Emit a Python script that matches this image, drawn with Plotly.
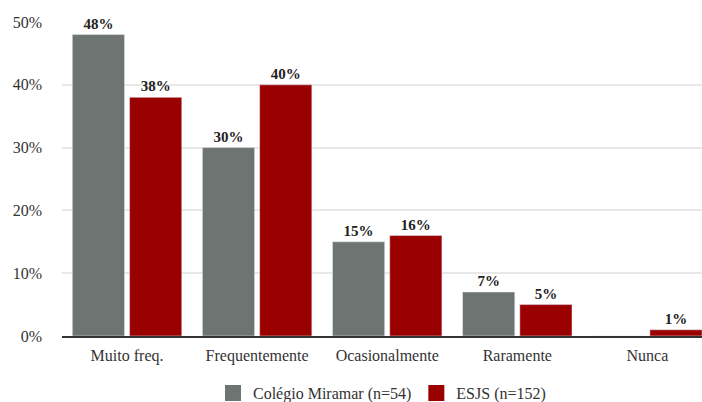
import plotly.graph_objects as go

categories = ["Muito freq.", "Frequentemente", "Ocasionalmente", "Raramente", "Nunca"]
miramar = [48, 30, 15, 7, 0]
esjs = [38, 40, 16, 5, 1]
miramar_labels = ["48%", "30%", "15%", "7%", ""]
esjs_labels = ["38%", "40%", "16%", "5%", "1%"]
y_ticks = [0, 10, 20, 30, 40, 50]
y_tick_text = ["0%", "10%", "20%", "30%", "40%", "50%"]
series_names = ["Colégio Miramar (n=54)", "ESJS (n=152)"]
series_colors = ["#6e7471", "#9b0000"]

font_family = "Liberation Serif"
label_font = dict(family=font_family, size=15, color="#222", weight="bold")

fig = go.Figure()
for vals, labels, name, color in [(miramar, miramar_labels, series_names[0], series_colors[0]),
                                  (esjs, esjs_labels, series_names[1], series_colors[1])]:
    fig.add_trace(go.Bar(
        x=categories, y=vals, name=name, marker_color=color,
        text=labels, textposition="outside", textfont=label_font,
        cliponaxis=False, showlegend=False,
    ))
# legend entries with larger square symbols
for name, color in zip(series_names, series_colors):
    fig.add_trace(go.Scatter(
        x=[None], y=[None], mode="markers", name=name,
        marker=dict(symbol="square", size=17, color=color),
        showlegend=True,
    ))

fig.update_layout(
    width=702, height=402,
    margin=dict(l=62, r=0, t=22, b=66, autoexpand=False),
    paper_bgcolor="white", plot_bgcolor="white",
    barmode="group", bargap=0.12, bargroupgap=0.088,
    font=dict(family=font_family, size=15, color="#333"),
    showlegend=True,
    legend=dict(orientation="h", x=0.5, xanchor="center",
                yref="container", y=0.022, yanchor="middle",
                font=dict(family=font_family, size=16, color="#333"),
                itemsizing="trace"),
    uniformtext=dict(mode="show", minsize=15),
)
fig.update_xaxes(
    range=[-0.5, 4.42], showgrid=False, tickfont=dict(family=font_family, size=16, color="#333"),
    showline=True, linecolor="#333", linewidth=2, ticks="", ticklabelstandoff=4,
)
fig.update_yaxes(
    range=[0, 50], tickvals=y_ticks, ticktext=y_tick_text,
    showgrid=True, gridcolor="#e8e8e8", gridwidth=2,
    zeroline=False, showline=False,
    tickfont=dict(family=font_family, size=16, color="#333"),
    ticklabelstandoff=19,
)

fig.write_html("out.html")
